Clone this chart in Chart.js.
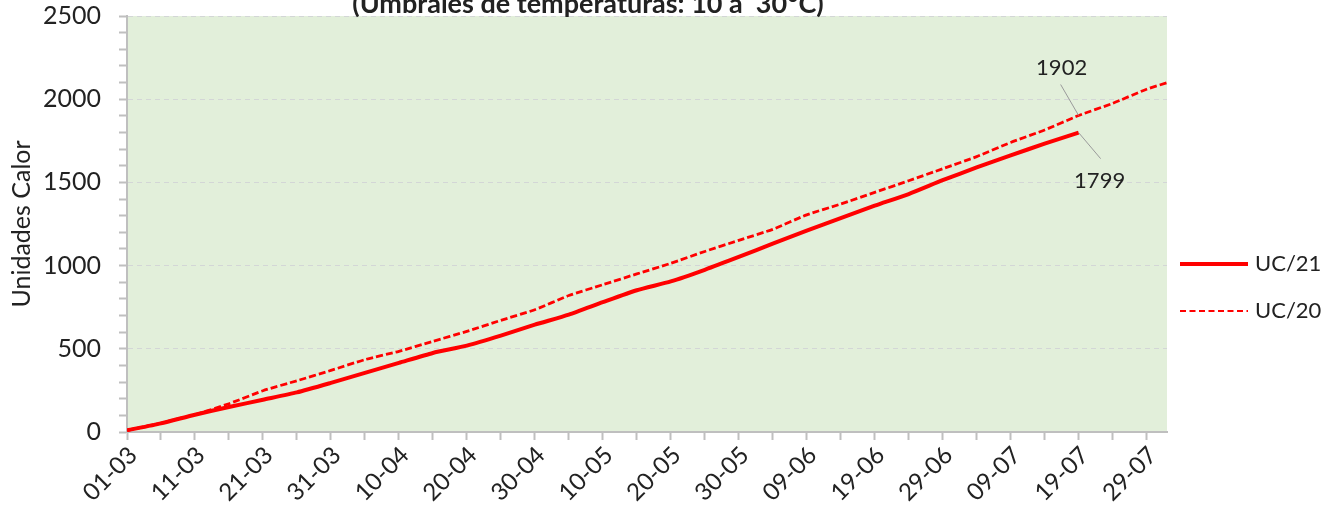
<!DOCTYPE html>
<html><head><meta charset="utf-8">
<script src="https://cdn.jsdelivr.net/npm/chart.js@4/dist/chart.umd.min.js"></script>
<style>html,body{margin:0;padding:0;background:#fff;overflow:hidden}#wrap{width:1335px;height:511px;position:relative}</style>
</head><body><div id="wrap"><canvas id="c" width="1335" height="511"></canvas></div>
<script>
// ---- data (days after 01-03) ----
const days = [0,5,10,15,20,25,30,35,40,45,50,55,60,65,70,75,80,85,90,95,100,105,110,115,120,125,130,135,140,145,150,153];
const uc21 = [10,52,104,150,194,238,295,355,415,475,519,579,645,705,780,852,905,975,1052,1132,1210,1285,1360,1430,1513,1590,1662,1733,1799,null,null,null];
const uc20 = [10,54,105,170,248,308,370,435,485,545,605,671,735,820,885,950,1014,1085,1152,1218,1305,1370,1440,1510,1582,1655,1740,1815,1902,1975,2060,2099];
const tickLabels = ['01-03','11-03','21-03','31-03','10-04','20-04','30-04','10-05','20-05','30-05','09-06','19-06','29-06','09-07','19-07','29-07'];
const seriesNames = ['UC/21','UC/20'];
const titleText = '(Umbrales de temperaturas: 10 a  30°C)';
const yTitle = 'Unidades Calor';
const annotateDay = 140;

const TXT = '#222222';
const RED = '#FF0000';

const bgPlugin = {
  id: 'bg',
  beforeDraw(chart) {
    const {ctx, chartArea: a} = chart;
    ctx.save();
    ctx.fillStyle = '#E2EFDA';
    ctx.fillRect(a.left, a.top, a.right - a.left, a.bottom - a.top);
    ctx.restore();
  }
};

const overlayPlugin = {
  id: 'overlay',
  afterDraw(chart) {
    const {ctx} = chart;
    const xs = chart.scales.x, ys = chart.scales.y;
    ctx.save();
    // title (partially cut at top)
    ctx.fillStyle = TXT;
    ctx.font = 'bold 27px Lato';
    ctx.textAlign = 'center';
    ctx.textBaseline = 'alphabetic';
    ctx.fillText(titleText, 588, 13);

    // annotations
    const i = days.indexOf(annotateDay);
    const px = xs.getPixelForValue(annotateDay);
    const p20 = ys.getPixelForValue(uc20[i]);
    const p21 = ys.getPixelForValue(uc21[i]);
    ctx.strokeStyle = '#9A9A9A';
    ctx.lineWidth = 1;
    ctx.beginPath();
    ctx.moveTo(px - 18, p20 - 31); ctx.lineTo(px, p20);
    ctx.moveTo(px, p21); ctx.lineTo(px + 22, p21 + 26);
    ctx.stroke();
    ctx.font = '22px Lato';
    ctx.textBaseline = 'middle';
    ctx.fillStyle = TXT;
    ctx.fillText(String(uc20[i]), px - 17, p20 - 48);
    ctx.fillText(String(uc21[i]), px + 21, p21 + 48);

    // legend
    const items = [
      {name: seriesNames[0], y: 264, w: 4, dash: []},
      {name: seriesNames[1], y: 311, w: 2.2, dash: [6, 3.5]}
    ];
    items.forEach(it => {
      ctx.strokeStyle = RED;
      ctx.lineWidth = it.w;
      ctx.setLineDash(it.dash);
      ctx.beginPath();
      ctx.moveTo(1180, it.y); ctx.lineTo(1248, it.y);
      ctx.stroke();
      ctx.setLineDash([]);
      ctx.textAlign = 'left';
      ctx.fillText(it.name, 1255, it.y);
    });
    ctx.restore();
  }
};

function build() {
  Chart.defaults.font.family = 'Lato';
  Chart.defaults.color = TXT;
  new Chart(document.getElementById('c'), {
    type: 'line',
    data: {
      datasets: [
        {label: seriesNames[0], data: days.map((d, k) => ({x: d, y: uc21[k]})),
         borderColor: RED, backgroundColor: RED, borderWidth: 4, pointRadius: 0, tension: 0.2, spanGaps: false},
        {label: seriesNames[1], data: days.map((d, k) => ({x: d, y: uc20[k]})),
         borderColor: RED, backgroundColor: RED, borderWidth: 2.8, borderDash: [7, 3], pointRadius: 0, tension: 0.2}
      ]
    },
    options: {
      responsive: false, animation: false, devicePixelRatio: 1,
      layout: {padding: {top: 16, right: 168, left: 0, bottom: 0}},
      plugins: {legend: {display: false}, tooltip: {enabled: false}, title: {display: false}},
      scales: {
        x: {
          type: 'linear', min: 0, max: 153,
          afterFit(s) { s.height = 79; },
          ticks: {
            stepSize: 5, includeBounds: false, autoSkip: false,
            minRotation: 45, maxRotation: 45, padding: 1, labelOffset: 6,
            font: {size: 24},
            callback: v => (v % 10 === 0 ? tickLabels[v / 10] : '')
          },
          grid: {drawOnChartArea: false, tickLength: 8, tickColor: '#BFBFBF', tickWidth: 2},
          border: {color: '#BFBFBF', width: 2}
        },
        y: {
          min: 0, max: 2500,
          afterFit(s) { s.width = 127; s.paddingTop = 0; s.paddingBottom = 0; },
          ticks: {stepSize: 100, padding: 18, autoSkip: false, font: {size: 25},
            callback: v => (v % 500 === 0 ? String(v) : '')},
          grid: {
            tickLength: 8, tickColor: '#BFBFBF', tickWidth: 2, lineWidth: 1,
            color: c => (c.tick && c.tick.value % 500 === 0 && c.tick.value !== 0) ? '#D3D6D6' : 'rgba(0,0,0,0)'
          },
          border: {color: '#BFBFBF', width: 2, dash: [5, 4]},
          title: {display: true, text: yTitle, font: {size: 25}, padding: {top: 7, bottom: 4}}
        }
      }
    },
    plugins: [bgPlugin, overlayPlugin]
  });
}
const f = document.fonts;
if (f && f.load) {
  Promise.all([f.load('22px Lato'), f.load('bold 27px Lato')]).then(build, build);
} else build();
</script>
</body></html>
